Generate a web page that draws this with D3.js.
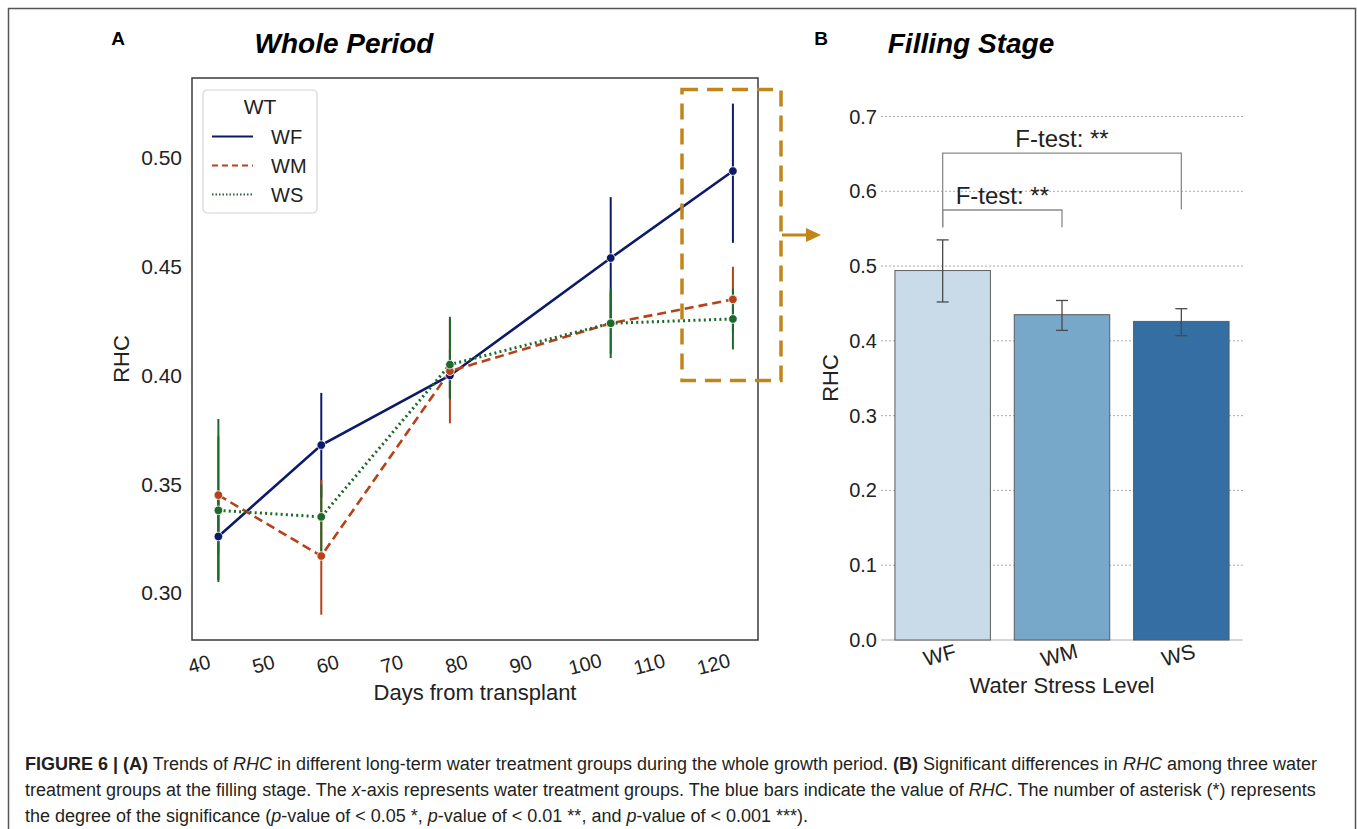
<!DOCTYPE html>
<html>
<head>
<meta charset="utf-8">
<script src="https://cdn.jsdelivr.net/npm/d3@7/dist/d3.min.js"></script>
<style>
  body { margin: 0; background: #fff; }
  text { font-family: "Liberation Sans", Arial, sans-serif; }
</style>
</head>
<body>
<svg id="fig" width="1357" height="829"></svg>
<script>
// ---- panel A data (whole period) ----
const days = [43, 59, 79, 104, 123];
const dayTicks = [40, 50, 60, 70, 80, 90, 100, 110, 120];
const rhcTicksA = [0.30, 0.35, 0.40, 0.45, 0.50];
const treatments = ["WF", "WM", "WS"];
const wfMean = [0.326, 0.368, 0.400, 0.454, 0.494];
const wfLow  = [0.306, 0.344, 0.390, 0.426, 0.461];
const wfHigh = [0.345, 0.392, 0.412, 0.482, 0.525];
const wmMean = [0.345, 0.317, 0.402, 0.424, 0.435];
const wmLow  = [0.318, 0.290, 0.378, 0.410, 0.420];
const wmHigh = [0.372, 0.352, 0.426, 0.438, 0.450];
const wsMean = [0.338, 0.335, 0.405, 0.424, 0.426];
const wsLow  = [0.305, 0.319, 0.389, 0.408, 0.412];
const wsHigh = [0.380, 0.350, 0.427, 0.440, 0.440];

// ---- panel B data (filling stage) ----
const fillMean = [0.494, 0.435, 0.426];
const fillLow  = [0.452, 0.414, 0.407];
const fillHigh = [0.535, 0.454, 0.443];
const rhcTicksB = [0.0, 0.1, 0.2, 0.3, 0.4, 0.5, 0.6, 0.7];
const fTests = [
  {from: "WF", to: "WM", level: 0.575, legFrom: 0.552, legTo: 0.552, label: "F-test: **"},
  {from: "WF", to: "WS", level: 0.651, legFrom: 0.552, legTo: 0.576, label: "F-test: **"}
];

const captionLines = [
  [["FIGURE 6 | (A)", "b"], [" Trends of ", ""], ["RHC", "i"], [" in different long-term water treatment groups during the whole growth period. ", ""], ["(B)", "b"], [" Significant differences in ", ""], ["RHC", "i"], [" among three water", ""]],
  [["treatment groups at the filling stage. The ", ""], ["x", "i"], ["-axis represents water treatment groups. The blue bars indicate the value of ", ""], ["RHC", "i"], [". The number of asterisk (*) represents", ""]],
  [["the degree of the significance (", ""], ["p", "i"], ["-value of < 0.05 *, ", ""], ["p", "i"], ["-value of < 0.01 **, and ", ""], ["p", "i"], ["-value of < 0.001 ***).", ""]]
];

const seriesColors = {WF: "#0c1a6a", WM: "#b5421b", WS: "#1c6a2a"};
const seriesDash = {WF: null, WM: "9,5", WS: "2,3.2"};
const legendDash = {WF: null, WM: "6,4", WS: "1.5,2"};

const series = [
  {name: "WF", mean: wfMean, low: wfLow, high: wfHigh},
  {name: "WM", mean: wmMean, low: wmLow, high: wmHigh},
  {name: "WS", mean: wsMean, low: wsLow, high: wsHigh}
].map(s => ({...s, pts: days.map((d, i) => ({day: d, v: s.mean[i], lo: s.low[i], hi: s.high[i]}))}));

const svg = d3.select("#fig");
svg.append("rect").attr("width", 1357).attr("height", 829).attr("fill", "#fff");

// outer figure frame
svg.append("path")
  .attr("d", "M8.5,840 V8.5 H1355.5 V840")
  .attr("fill", "none").attr("stroke", "#555").attr("stroke-width", 1.5);

// ===================== Panel A =====================
const A = {left: 192, right: 758, top: 78, bottom: 640};
const xA = d3.scaleLinear().domain([38.9, 126.9]).range([A.left, A.right]);
const yA = d3.scaleLinear().domain([0.30, 0.50]).range([593, 158]);

svg.append("text").attr("x", 118).attr("y", 45).attr("text-anchor", "middle")
  .attr("font-size", 19).attr("font-weight", "bold").text("A");
svg.append("text").attr("x", 344).attr("y", 53).attr("text-anchor", "middle")
  .attr("font-size", 28).attr("font-weight", "bold").attr("font-style", "italic").text("Whole Period");

const gA = svg.append("g");

// y tick labels
gA.selectAll("text.ytA").data(rhcTicksA).enter().append("text")
  .attr("class", "ytA")
  .attr("x", A.left - 10).attr("y", d => yA(d))
  .attr("dy", "0.35em").attr("text-anchor", "end")
  .attr("font-size", 21).attr("fill", "#222")
  .text(d => d3.format(".2f")(d));

// x tick labels (rotated)
gA.selectAll("text.xtA").data(dayTicks).enter().append("text")
  .attr("class", "xtA")
  .attr("transform", d => `translate(${xA(d)},664) rotate(-15)`)
  .attr("dy", "0.35em").attr("text-anchor", "middle")
  .attr("font-size", 20).attr("fill", "#222")
  .text(d => d);

gA.append("text").attr("x", (A.left + A.right) / 2).attr("y", 700)
  .attr("text-anchor", "middle").attr("font-size", 22).attr("fill", "#222")
  .text("Days from transplant");
gA.append("text").attr("transform", `translate(129,${(A.top + A.bottom) / 2}) rotate(-90)`)
  .attr("text-anchor", "middle").attr("font-size", 22).attr("fill", "#222")
  .text("RHC");

// error bars first, then lines, then markers
series.forEach(s => {
  gA.append("g").selectAll("line").data(s.pts).enter().append("line")
    .attr("x1", d => xA(d.day)).attr("x2", d => xA(d.day))
    .attr("y1", d => yA(d.lo)).attr("y2", d => yA(d.hi))
    .attr("stroke", seriesColors[s.name]).attr("stroke-width", 2);
});
const lineA = d3.line().x(d => xA(d.day)).y(d => yA(d.v));
series.forEach(s => {
  gA.append("path").datum(s.pts)
    .attr("d", lineA).attr("fill", "none")
    .attr("stroke", seriesColors[s.name]).attr("stroke-width", s.name === "WS" ? 3 : 2.6)
    .attr("stroke-dasharray", seriesDash[s.name]);
});
series.forEach(s => {
  gA.append("g").selectAll("circle").data(s.pts).enter().append("circle")
    .attr("cx", d => xA(d.day)).attr("cy", d => yA(d.v)).attr("r", 4.3)
    .attr("fill", seriesColors[s.name]).attr("stroke", "#fff").attr("stroke-width", 0.8);
});

// frame
gA.append("rect").attr("x", A.left).attr("y", A.top)
  .attr("width", A.right - A.left).attr("height", A.bottom - A.top)
  .attr("fill", "none").attr("stroke", "#3a3a3a").attr("stroke-width", 1.5);

// legend
const leg = gA.append("g").attr("transform", "translate(203,90)");
leg.append("rect").attr("width", 114).attr("height", 123).attr("rx", 4)
  .attr("fill", "#fff").attr("stroke", "#d4d4d4").attr("stroke-width", 1.2);
leg.append("text").attr("x", 57).attr("y", 17).attr("dy", "0.35em")
  .attr("text-anchor", "middle").attr("font-size", 21).attr("fill", "#222").text("WT");
const legRow = d3.scaleBand().domain(treatments).range([32, 119]);
treatments.forEach(t => {
  const cy = legRow(t) + legRow.bandwidth() / 2;
  leg.append("line").attr("x1", 9).attr("x2", 50).attr("y1", cy).attr("y2", cy)
    .attr("stroke", seriesColors[t]).attr("stroke-width", 2)
    .attr("stroke-dasharray", legendDash[t]);
  leg.append("text").attr("x", 68).attr("y", cy).attr("dy", "0.35em")
    .attr("font-size", 20).attr("fill", "#222").text(t);
});

// highlight box and arrow
const accent = "#c0861a";
svg.append("rect").attr("x", 682).attr("y", 89.5).attr("width", 99).attr("height", 291)
  .attr("fill", "none").attr("stroke", accent).attr("stroke-width", 3.5)
  .attr("stroke-dasharray", "16,9");
svg.append("line").attr("x1", 782).attr("x2", 808).attr("y1", 235).attr("y2", 235)
  .attr("stroke", accent).attr("stroke-width", 3);
svg.append("path").attr("d", "M806,228 L821,235 L806,242 Z").attr("fill", accent);

// ===================== Panel B =====================
const B = {left: 881, right: 1243};
const xB = d3.scaleBand().domain(treatments).range([883, 1241]).paddingInner(0.2).paddingOuter(0.1);
const yB = d3.scaleLinear().domain([0, 0.7]).range([640, 116.5]);
const barColors = d3.scaleOrdinal(treatments, ["#c9dae9", "#78a8c9", "#346ea2"]);

svg.append("text").attr("x", 821).attr("y", 45).attr("text-anchor", "middle")
  .attr("font-size", 19).attr("font-weight", "bold").text("B");
svg.append("text").attr("x", 971).attr("y", 53).attr("text-anchor", "middle")
  .attr("font-size", 28).attr("font-weight", "bold").attr("font-style", "italic").text("Filling Stage");

const gB = svg.append("g");
// dotted grid
gB.selectAll("line.grid").data(rhcTicksB.filter(d => d > 0)).enter().append("line")
  .attr("class", "grid")
  .attr("x1", B.left).attr("x2", B.right)
  .attr("y1", d => yB(d)).attr("y2", d => yB(d))
  .attr("stroke", "#aaa").attr("stroke-width", 1).attr("stroke-dasharray", "2,2");
gB.append("line").attr("x1", B.left).attr("x2", B.right)
  .attr("y1", yB(0)).attr("y2", yB(0)).attr("stroke", "#c8c8c8").attr("stroke-width", 1.5);

gB.selectAll("text.ytB").data(rhcTicksB).enter().append("text")
  .attr("class", "ytB")
  .attr("x", B.left - 4).attr("y", d => yB(d)).attr("dy", "0.35em")
  .attr("text-anchor", "end").attr("font-size", 20).attr("fill", "#222")
  .text(d => d3.format(".1f")(d));

const bars = treatments.map((t, i) => ({t, v: fillMean[i], lo: fillLow[i], hi: fillHigh[i]}));
gB.selectAll("rect.bar").data(bars).enter().append("rect")
  .attr("class", "bar")
  .attr("x", d => xB(d.t)).attr("width", xB.bandwidth())
  .attr("y", d => yB(d.v)).attr("height", d => yB(0) - yB(d.v))
  .attr("fill", d => barColors(d.t)).attr("stroke", "#5c5c5c").attr("stroke-width", 1);

const eb = gB.selectAll("g.eb").data(bars).enter().append("g")
  .attr("transform", d => `translate(${xB(d.t) + xB.bandwidth() / 2},0)`)
  .attr("stroke", "#4a4a4a").attr("stroke-width", 1.3);
eb.append("line").attr("y1", d => yB(d.lo)).attr("y2", d => yB(d.hi));
eb.append("line").attr("x1", -6).attr("x2", 6).attr("y1", d => yB(d.lo)).attr("y2", d => yB(d.lo));
eb.append("line").attr("x1", -6).attr("x2", 6).attr("y1", d => yB(d.hi)).attr("y2", d => yB(d.hi));

gB.selectAll("text.xtB").data(treatments).enter().append("text")
  .attr("transform", d => `translate(${xB(d) + xB.bandwidth() / 2 - 3},655) rotate(-15)`)
  .attr("dy", "0.35em").attr("text-anchor", "middle")
  .attr("font-size", 21).attr("fill", "#222").text(d => d);
gB.append("text").attr("x", 1062).attr("y", 693).attr("text-anchor", "middle")
  .attr("font-size", 22).attr("fill", "#222").text("Water Stress Level");
gB.append("text").attr("transform", `translate(838,378) rotate(-90)`)
  .attr("text-anchor", "middle").attr("font-size", 22).attr("fill", "#222").text("RHC");

// significance brackets
const cx = t => xB(t) + xB.bandwidth() / 2;
fTests.forEach(f => {
  gB.append("path")
    .attr("d", `M${cx(f.from)},${yB(f.legFrom)} V${yB(f.level)} H${cx(f.to)} V${yB(f.legTo)}`)
    .attr("fill", "none").attr("stroke", "#8a8a8a").attr("stroke-width", 1.3);
  gB.append("text").attr("x", (cx(f.from) + cx(f.to)) / 2).attr("y", yB(f.level) - 6)
    .attr("text-anchor", "middle").attr("font-size", 24).attr("fill", "#222").text(f.label);
});

// ===================== Caption =====================
const cap = svg.append("g").attr("fill", "#231f20");
captionLines.forEach((segs, i) => {
  const tx = cap.append("text").attr("x", 25).attr("y", 770 + i * 26).attr("font-size", 18);
  segs.forEach(([s, st]) => {
    tx.append("tspan")
      .attr("font-weight", st === "b" ? "bold" : null)
      .attr("font-style", st === "i" ? "italic" : null)
      .text(s);
  });
});
</script>
</body>
</html>
